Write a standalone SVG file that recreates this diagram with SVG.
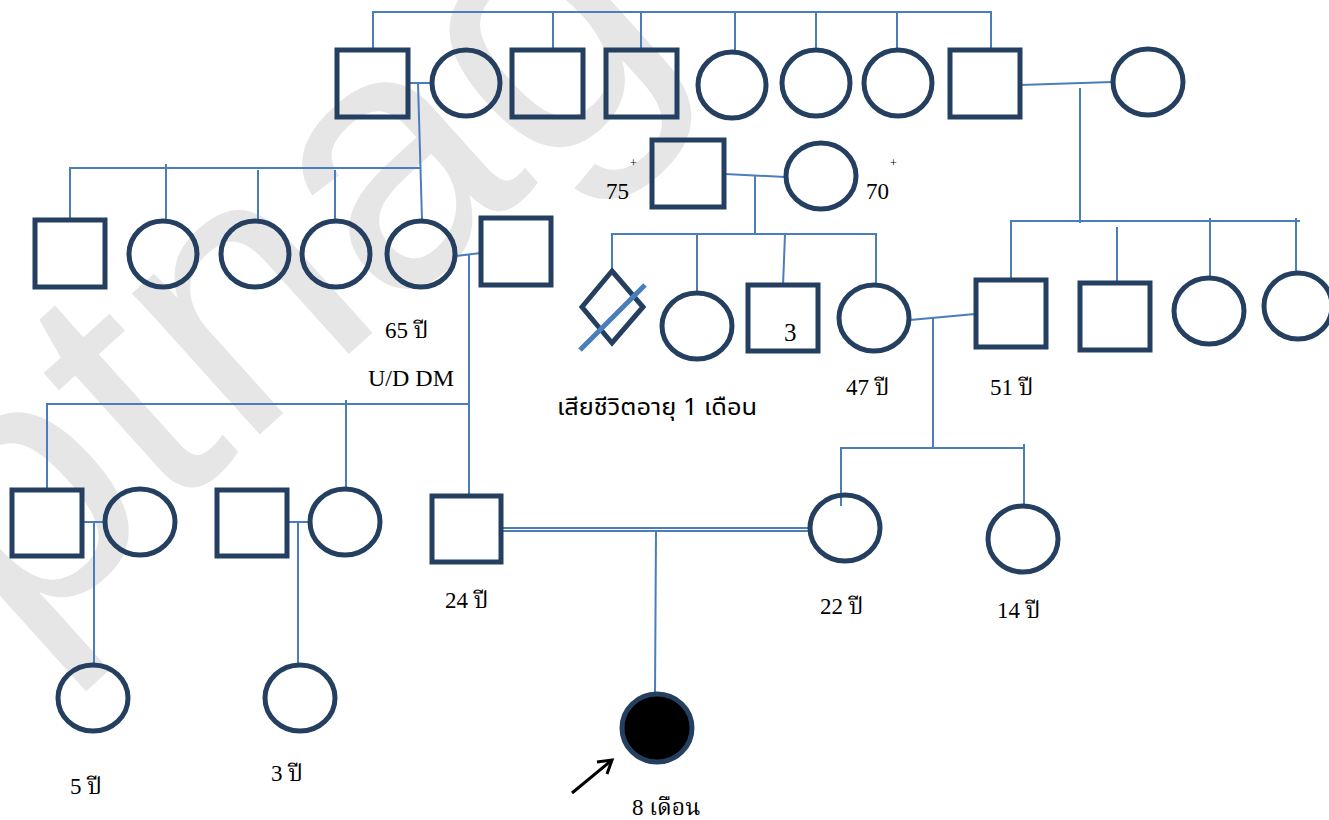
<svg xmlns="http://www.w3.org/2000/svg" width="1329" height="820" viewBox="0 0 1329 820">
<style>
.n{fill:none;stroke:#243F60;stroke-width:5}
.c line,.c path{stroke:#4A7EBB;stroke-width:2;fill:none}
.t{font-family:"Liberation Serif","Noto Serif Thai","DejaVu Serif",serif;font-size:23px;fill:#000}
.ts{font-family:"Noto Sans Thai","DejaVu Sans","Noto Sans",sans-serif;font-size:23px;fill:#000}
.wm{font-family:"Liberation Sans",Arial,sans-serif;font-size:360px;fill:#e6e6e6}
</style>
<rect width="1329" height="820" fill="#fff"/>
<g id="watermark"><text class="wm" transform="translate(18,652) rotate(-42)">ptnag</text></g>
<g id="connectors" class="c">
<path d="M373,50 V12 H991 V50"/>
<line x1="553" y1="12" x2="553" y2="50"/>
<line x1="641" y1="12" x2="641" y2="50"/>
<line x1="735" y1="12" x2="735" y2="52"/>
<line x1="816" y1="12" x2="816" y2="50"/>
<line x1="897" y1="12" x2="897" y2="50"/>
<line x1="408" y1="83" x2="432" y2="83"/>
<line x1="418" y1="83" x2="422" y2="220"/>
<path d="M70,220 V168 H420"/>
<line x1="166" y1="164" x2="166" y2="220"/>
<line x1="258" y1="170" x2="258" y2="220"/>
<line x1="335" y1="170" x2="335" y2="220"/>
<line x1="456" y1="256" x2="481" y2="253"/>
<line x1="469" y1="255" x2="469" y2="496"/>
<path d="M47,490 V404 H469"/>
<line x1="346" y1="400" x2="346" y2="490"/>
<line x1="82" y1="522" x2="104" y2="522"/>
<line x1="94" y1="522" x2="94" y2="665"/>
<line x1="287" y1="522" x2="309" y2="522"/>
<line x1="298" y1="522" x2="298" y2="664"/>
<line x1="501" y1="528" x2="810" y2="528"/>
<line x1="501" y1="531" x2="810" y2="531"/>
<line x1="656" y1="531" x2="655" y2="693"/>
<line x1="725" y1="174" x2="785" y2="177"/>
<line x1="755" y1="175" x2="755" y2="234"/>
<path d="M612,271 V234 H876 V286"/>
<line x1="697" y1="234" x2="697" y2="292"/>
<line x1="785" y1="234" x2="783" y2="286"/>
<line x1="1020" y1="85" x2="1112" y2="82"/>
<line x1="1080" y1="88" x2="1080" y2="223"/>
<path d="M1011,281 V221 H1300"/>
<line x1="1117" y1="227" x2="1117" y2="284"/>
<line x1="1210" y1="218" x2="1210" y2="279"/>
<line x1="1296" y1="218" x2="1296" y2="273"/>
<line x1="910" y1="320" x2="975" y2="314"/>
<line x1="933" y1="318" x2="933" y2="448"/>
<path d="M841,506 V448 H1024"/>
<line x1="1024" y1="444" x2="1024" y2="505"/>
</g>
<g id="n-gen1-a"><rect class="n" x="337" y="50" width="71" height="67"/></g>
<g id="n-gen1-b"><ellipse class="n" cx="466" cy="83" rx="34" ry="33"/></g>
<g id="n-gen1-c"><rect class="n" x="512" y="50" width="71" height="67"/></g>
<g id="n-gen1-d"><rect class="n" x="606" y="50" width="71" height="67"/></g>
<g id="n-gen1-e"><ellipse class="n" cx="732" cy="85" rx="34" ry="33"/></g>
<g id="n-gen1-f"><ellipse class="n" cx="816" cy="83" rx="34" ry="33"/></g>
<g id="n-gen1-g"><ellipse class="n" cx="898" cy="83" rx="34" ry="33"/></g>
<g id="n-gen1-h"><rect class="n" x="950" y="50" width="70" height="67"/></g>
<g id="n-gen1-i"><ellipse class="n" cx="1148" cy="82" rx="35" ry="33"/></g>
<g id="n-gen2-1"><rect class="n" x="35" y="220" width="70" height="67"/></g>
<g id="n-gen2-2"><ellipse class="n" cx="163" cy="254" rx="34" ry="33"/></g>
<g id="n-gen2-3"><ellipse class="n" cx="255" cy="254" rx="34" ry="33"/></g>
<g id="n-gen2-4"><ellipse class="n" cx="336" cy="254" rx="34" ry="33"/></g>
<g id="n-grandma-p"><ellipse class="n" cx="421" cy="254" rx="34" ry="33"/>
<text class="t" x="385" y="338">65 ปี</text><text class="t" x="368" y="386" textLength="86" lengthAdjust="spacingAndGlyphs">U/D DM</text></g>
<g id="n-grandpa-p"><rect class="n" x="481" y="218" width="70" height="67"/></g>
<g id="n-grandpa-m"><rect class="n" x="652" y="140" width="72" height="67"/>
<text class="t" x="606" y="199">75</text><text class="t" x="630" y="167" style="font-size:12px">+</text></g>
<g id="n-grandma-m"><ellipse class="n" cx="821" cy="176" rx="35" ry="33"/>
<text class="t" x="866" y="199">70</text><text class="t" x="890" y="167" style="font-size:12px">+</text></g>
<g id="n-diamond"><polygon class="n" points="612,271 643,307 612,343 582,307"/>
<line x1="580" y1="350" x2="645" y2="285" stroke="#4A7EBB" stroke-width="5"/>
<text class="ts" x="557" y="415" textLength="200" lengthAdjust="spacingAndGlyphs">เสียชีวิตอายุ 1 เดือน</text></g>
<g id="n-aunt"><ellipse class="n" cx="697" cy="326" rx="35" ry="33"/></g>
<g id="n-uncle3"><rect class="n" x="748" y="285" width="70" height="66"/><text class="t" x="784" y="341" style="font-size:25px">3</text></g>
<g id="n-mother-m"><ellipse class="n" cx="874" cy="318" rx="35" ry="33"/><text class="t" x="846" y="395">47 ปี</text></g>
<g id="n-father-m"><rect class="n" x="976" y="280" width="70" height="67"/><text class="t" x="990" y="395">51 ปี</text></g>
<g id="n-r2"><rect class="n" x="1080" y="283" width="70" height="67"/></g>
<g id="n-r3"><ellipse class="n" cx="1209" cy="311" rx="35" ry="33"/></g>
<g id="n-r4"><ellipse class="n" cx="1298" cy="306" rx="34" ry="33"/></g>
<g id="n-g3-1"><rect class="n" x="12" y="490" width="70" height="66"/></g>
<g id="n-g3-2"><ellipse class="n" cx="140" cy="522" rx="35" ry="33"/></g>
<g id="n-g3-3"><rect class="n" x="217" y="490" width="70" height="66"/></g>
<g id="n-g3-4"><ellipse class="n" cx="345" cy="522" rx="35" ry="33"/></g>
<g id="n-father"><rect class="n" x="432" y="496" width="69" height="66"/><text class="t" x="445" y="608">24 ปี</text></g>
<g id="n-mother"><ellipse class="n" cx="845" cy="528" rx="35" ry="33"/><text class="t" x="820" y="614">22 ปี</text></g>
<g id="n-aunt14"><ellipse class="n" cx="1023" cy="539" rx="35" ry="33"/><text class="t" x="997" y="618">14 ปี</text></g>
<g id="n-g4-1"><ellipse class="n" cx="93" cy="698" rx="35" ry="33"/><text class="t" x="70" y="794">5 ปี</text></g>
<g id="n-g4-2"><ellipse class="n" cx="300" cy="698" rx="35" ry="33"/><text class="t" x="271" y="781">3 ปี</text></g>
<g id="n-proband"><ellipse cx="657" cy="728" rx="35" ry="34" fill="#000" stroke="#243F60" stroke-width="5"/>
<line x1="572" y1="793" x2="612" y2="760" stroke="#000" stroke-width="3"/>
<path d="M597,762 L612,760 L607,774" fill="none" stroke="#000" stroke-width="3"/>
<text class="t" x="632" y="815">8 เดือน</text></g>
</svg>
